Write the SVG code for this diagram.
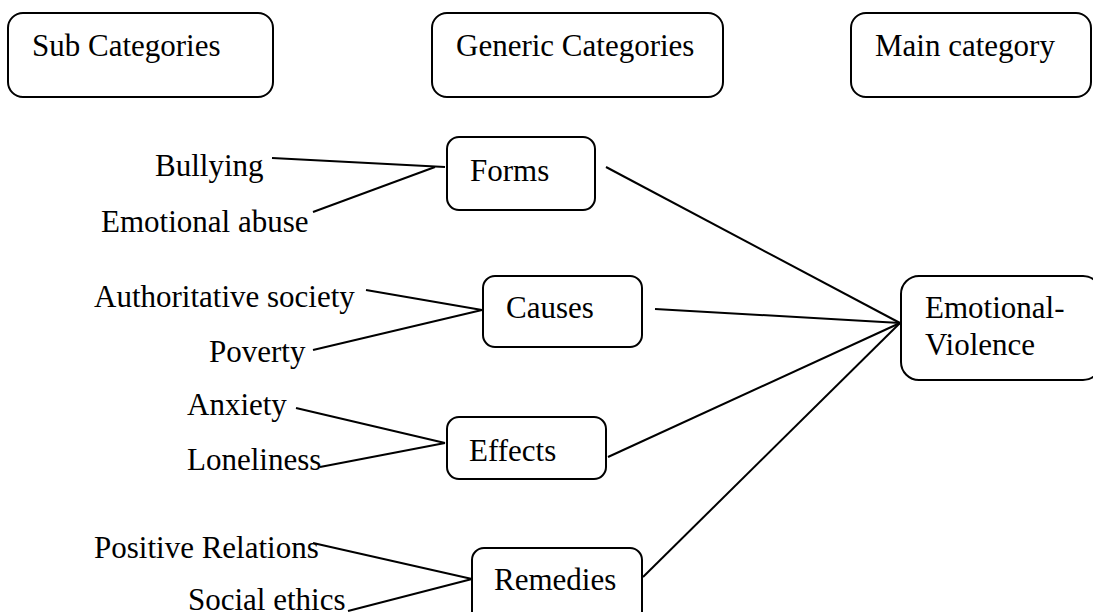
<svg xmlns="http://www.w3.org/2000/svg" width="1093" height="612" viewBox="0 0 1093 612">
<style>
.box{fill:#fff;stroke:#000;stroke-width:2}
.t{font-family:"Liberation Serif","Times New Roman",serif;font-size:31px;fill:#000}
.c line{stroke:#000;stroke-width:2}
</style>
<rect width="1093" height="612" fill="#fff"/>
<g id="sub-categories"><rect class="box" x="8" y="13" width="265" height="84" rx="15"/><text class="t" x="32" y="56">Sub Categories</text></g>
<g id="generic-categories"><rect class="box" x="432" y="13" width="291" height="84" rx="15"/><text class="t" x="456" y="56">Generic Categories</text></g>
<g id="main-category"><rect class="box" x="851" y="13" width="240" height="84" rx="15"/><text class="t" x="875" y="56">Main category</text></g>
<g id="forms"><rect class="box" x="447" y="137" width="148" height="73" rx="12"/><text class="t" x="470" y="181">Forms</text></g>
<g id="causes"><rect class="box" x="483" y="276" width="159" height="71" rx="12"/><text class="t" x="506" y="318">Causes</text></g>
<g id="effects"><rect class="box" x="447" y="417" width="159" height="62" rx="12"/><text class="t" x="469" y="461">Effects</text></g>
<g id="remedies"><rect class="box" x="472" y="548" width="170" height="80" rx="12"/><text class="t" x="494" y="590">Remedies</text></g>
<g id="emotional-violence"><rect class="box" x="901" y="276" width="200" height="104" rx="18"/><text class="t" x="925" y="318">Emotional-</text><text class="t" x="925" y="355">Violence</text></g>
<g id="bullying"><text class="t" x="155" y="176">Bullying</text></g>
<g id="emotional-abuse"><text class="t" x="101" y="232">Emotional abuse</text></g>
<g id="authoritative-society"><text class="t" x="94" y="307">Authoritative society</text></g>
<g id="poverty"><text class="t" x="209" y="362">Poverty</text></g>
<g id="anxiety"><text class="t" x="187" y="415">Anxiety</text></g>
<g id="loneliness"><text class="t" x="187" y="470">Loneliness</text></g>
<g id="positive-relations"><text class="t" x="94" y="558">Positive Relations</text></g>
<g id="social-ethics"><text class="t" x="188" y="610">Social ethics</text></g>
<g id="connectors" class="c">
<line x1="272" y1="158" x2="445" y2="167"/>
<line x1="313" y1="212" x2="435" y2="167"/>
<line x1="366" y1="290" x2="482" y2="310"/>
<line x1="313" y1="350" x2="482" y2="310"/>
<line x1="296" y1="408" x2="445" y2="443"/>
<line x1="320" y1="467" x2="445" y2="443"/>
<line x1="313" y1="543" x2="472" y2="579"/>
<line x1="348" y1="611" x2="472" y2="579"/>
<line x1="606" y1="167" x2="900" y2="323"/>
<line x1="655" y1="309" x2="900" y2="323"/>
<line x1="608" y1="457" x2="900" y2="323"/>
<line x1="643" y1="577" x2="900" y2="323"/>
</g>
</svg>
